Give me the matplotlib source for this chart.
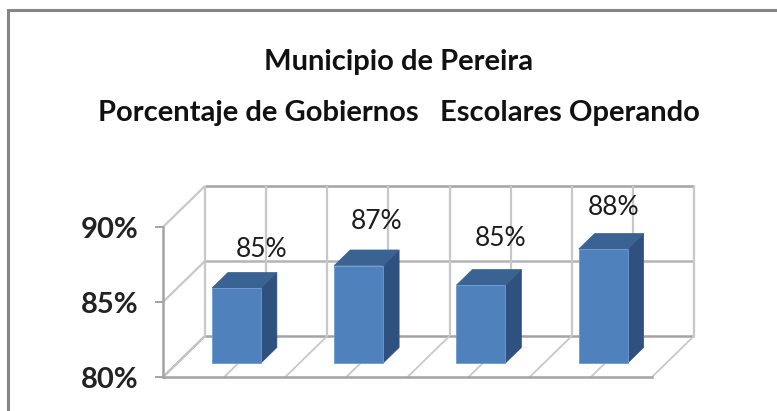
import matplotlib
matplotlib.use("Agg")
import matplotlib.pyplot as plt
from matplotlib.lines import Line2D
from matplotlib.patches import Polygon

# ---- data ----
title_lines = ["Municipio de Pereira", "Porcentaje de Gobiernos   Escolares Operando"]
categories = ["A", "B", "C", "D"]
values = [85.0, 86.5, 85.2, 87.6]
value_labels = ["85%", "87%", "85%", "88%"]
y_ticks = [80, 85, 90]
y_tick_labels = ["80%", "85%", "90%"]

# ---- layout / style (pixels) ----
W, H = 777, 411
DPI = 100
PX = 72 / DPI
FONT = "Lato"
GRID = "#c8c8c8"
AXIS = "#a3a3a3"
FRONT, TOP, SIDE = "#4f81bd", "#3a6292", "#2f5180"
bar_width = 0.40
bar_shift = -0.016                # bars sit a little left of the category centre
depth_dx, depth_dy = 42, 41       # pixels for the full depth of the 3D box
bar_d0, bar_d1 = 0.34, 0.72       # bar position within the depth
label_offsets = [(25, 39), (18, 44), (20, 47), (10, 42)]

fig = plt.figure(figsize=(W / DPI, H / DPI), dpi=DPI, facecolor="white")
left, right, bottom_px, top_px = 163, 652, 377, 227
ax = fig.add_axes([left / W, 1 - bottom_px / H, (right - left) / W, (bottom_px - top_px) / H])
ax.set_xlim(0, len(categories))
ax.set_ylim(y_ticks[0], y_ticks[-1])
ax.patch.set_alpha(0)

ux = (right - left) / len(categories)       # px per category
uy = (bottom_px - top_px) / (y_ticks[-1] - y_ticks[0])  # px per percent


def proj(x, y, d):
    """Oblique projection: category x, percent y, depth d in [0, 1]."""
    return x + d * depth_dx / ux, y + d * depth_dy / uy


def seg(p, q, color, lw=1.6, z=1):
    ax.add_line(Line2D([p[0], q[0]], [p[1], q[1]], color=color, lw=lw, clip_on=False,
                       zorder=z, solid_capstyle="butt"))


base, ceil = y_ticks[0], y_ticks[-1]
n = len(categories)

# horizontal gridlines on the back wall + left wall
for t in y_ticks:
    seg(proj(0, t, 0), proj(0, t, 1), AXIS if t == base else GRID)
    seg(proj(0, t, 1), proj(n, t, 1), AXIS if t in (base, ceil) else "#b4b4b4", lw=1.8)

# vertical wall lines and floor lines, every half category
for i in range(2 * n + 1):
    x = i / 2
    seg(proj(x, base, 1), proj(x, ceil, 1), GRID)
    seg(proj(x, base, 0), proj(x, base, 1), GRID, lw=1.3)

# bars
for i, (v, lab, off) in enumerate(zip(values, value_labels, label_offsets)):
    x0, x1 = i + 0.5 + bar_shift - bar_width / 2, i + 0.5 + bar_shift + bar_width / 2
    fb0, fb1 = proj(x0, base, bar_d0), proj(x1, base, bar_d0)
    ft0, ft1 = proj(x0, v, bar_d0), proj(x1, v, bar_d0)
    bb1, bt1, bt0 = proj(x1, base, bar_d1), proj(x1, v, bar_d1), proj(x0, v, bar_d1)
    ax.add_patch(Polygon([fb1, bb1, bt1, ft1], fc=SIDE, ec=SIDE, lw=0.5, clip_on=False, zorder=3))
    ax.add_patch(Polygon([ft0, ft1, bt1, bt0], fc=TOP, ec=TOP, lw=0.5, clip_on=False, zorder=3))
    ax.add_patch(Polygon([fb0, fb1, ft1, ft0], fc=FRONT, ec="#6f9bd0", lw=0.6, clip_on=False, zorder=4))
    ax.annotate(lab, xy=ft0, xytext=((bar_width * ux / 2 + off[0]) * PX, off[1] * PX),
                textcoords="offset points", ha="center", va="center",
                fontsize=19, family=FONT, color="#1c1c1c", zorder=6)

# axes
for s in ("top", "right"):
    ax.spines[s].set_visible(False)
for s in ("left", "bottom"):
    ax.spines[s].set_color(AXIS)
    ax.spines[s].set_linewidth(1.8)
ax.set_xticks([])
ax.set_yticks(y_ticks, y_tick_labels, fontsize=21, family=FONT, color="#222222", fontweight="bold")
ax.tick_params(axis="y", length=8 * PX, width=1.4, color=AXIS, pad=17 * PX)

# title
for line, yc in zip(title_lines, (62, 113)):
    fig.text(399 / W, 1 - yc / H, line, ha="center", va="center", fontsize=21,
             family=FONT, color="#111111", fontweight="bold")

# frame: only left and top edges are visible
fig.add_artist(Line2D([8 / W, 8 / W, 1], [0, 1 - 10 / H, 1 - 10 / H], color="#858585", lw=2.2,
                      transform=fig.transFigure, solid_joinstyle="miter"))

fig.savefig("out.png", dpi=DPI, facecolor="white")
